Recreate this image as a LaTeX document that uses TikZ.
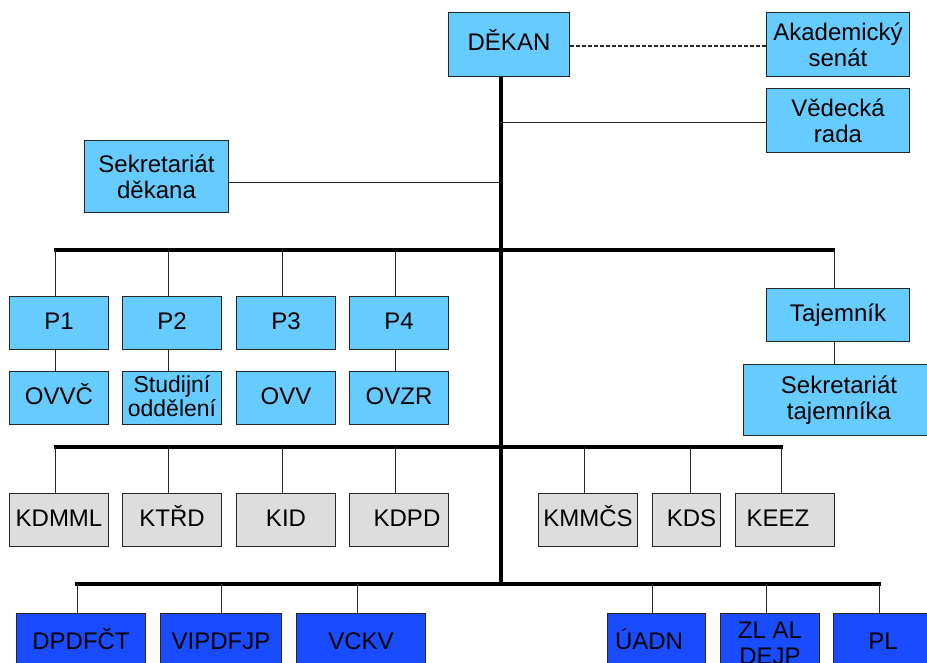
\documentclass[tikz,border=0pt]{standalone}
\usepackage{fontspec}
\setmainfont{Liberation Sans}
\usetikzlibrary{positioning,calc}
\definecolor{lightblue}{RGB}{102,204,255}
\definecolor{darkblue}{RGB}{26,76,255}
\definecolor{boxgray}{RGB}{221,221,221}
\begin{document}
\begin{tikzpicture}[x=1pt,y=-1pt,
  box/.style={rectangle,draw=black!85,line width=1pt,anchor=north west,inner sep=0pt,align=center,
    font=\fontsize{24}{26}\selectfont},
  size/.style 2 args={minimum width=#1,minimum height=#2},
  one/.style={text height=17pt,text depth=4.5pt},
  lb/.style={box,fill=lightblue},
  gb/.style={box,fill=boxgray},
  db/.style={box,fill=darkblue},
  thin line/.style={line width=1pt,black!85},
  bus/.style={line width=4pt,black}]
\useasboundingbox (0,0) rectangle (927,662);
\clip (0,0) rectangle (927,662);
% top
\begin{scope}
\node[lb,one,size={121}{64}] (dekan) at (448,12) {DĚKAN};
\node[lb,size={143}{64}] (senat) at (766,12) {Akademický\\senát};
\node[lb,size={143}{64}] (rada) at (766,88) {Vědecká\\rada};
\node[lb,size={144}{72}] (sekd) at (84,140) {Sekretariát\\děkana};
\end{scope}
% prorektori
\begin{scope}
\node[lb,one,size={99}{53}] (p1) at (9,296) {P1};
\node[lb,one,size={99}{53}] (p2) at (122,296) {P2};
\node[lb,one,size={99}{53}] (p3) at (236,296) {P3};
\node[lb,one,size={99}{53}] (p4) at (349,296) {P4};
\node[lb,one,size={99}{53}] (ovvc) at (9,371) {OVVČ};
\node[lb,size={99}{53}] (stud) at (122,371) {\fontsize{23}{24}\selectfont\raisebox{4pt}{\shortstack{Studijní\\oddělení}}};
\node[lb,one,size={99}{53}] (ovv) at (236,371) {OVV};
\node[lb,one,size={99}{53}] (ovzr) at (349,371) {OVZR};
\node[lb,one,size={143}{53}] (taj) at (766,288) {Tajemník};
\node[lb,size={191}{71}] (sekt) at (743,364) {Sekretariát\\tajemníka};
\end{scope}
% katedry
\begin{scope}
\node[gb,one,size={99}{53}] (kdmml) at (9,493) {KDMML};
\node[gb,one,size={99}{53}] (ktrd) at (122,493) {KTŘD};
\node[gb,one,size={99}{53}] (kid) at (236,493) {KID};
\node[gb,one,size={99}{53}] (kdpd) at (349,493) {\hspace{16pt}KDPD};
\node[gb,one,size={99}{53}] (kmmcs) at (538,493) {KMMČS};
\node[gb,one,size={68}{53}] (kds) at (652,493) {\hspace{10pt}KDS};
\node[gb,one,size={99}{53}] (keez) at (735,493) {KEEZ\hspace{14pt}};
\end{scope}
% ustavy
\begin{scope}
\node[db,one,size={129}{60}] (dpdfct) at (16,613) {DPDFČT};
\node[db,one,size={121}{60}] (vipdfjp) at (160,613) {VIPDFJP};
\node[db,one,size={129}{60}] (vckv) at (296,613) {VCKV};
\node[db,one,size={98}{60}] (uadn) at (607,613) {ÚADN\hspace{15pt}};
\node[db,size={99}{60}] (zlal) at (720,613) {ZL AL\\DEJP};
\node[db,one,size={99}{60}] (pl) at (833,613) {PL};
\end{scope}
% bus lines
\coordinate (axis) at (501,0);
\coordinate (bus1w) at (54,250);
\coordinate (bus1e) at (835,250);
\coordinate (bus2w) at (54,447);
\coordinate (bus2e) at (783,447);
\coordinate (bus3w) at (75,584);
\coordinate (bus3e) at (881,584);
\begin{scope}
\draw[bus] (dekan.south -| axis) -- (bus3w -| axis);
\draw[bus] (bus1w) -- (bus1e);
\draw[bus] (bus2w) -- (bus2e);
\draw[bus] (bus3w) -- (bus3e);
\draw[thin line,line width=1.3pt,dash pattern=on 4pt off 2pt] (dekan.east |- 0,46) -- (senat.west |- 0,46);
\draw[thin line] (axis |- 0,122) -- (rada.west |- 0,122);
\draw[thin line] (sekd.east |- 0,182) -- (axis |- 0,182);
\foreach \n in {p1,p2,p3,p4,taj}
  \draw[thin line] ([xshift=-4pt]\n.north) -- ([xshift=-4pt]\n.north |- bus1w);
\foreach \a/\b in {p1/ovvc,p2/stud,p4/ovzr,taj/sekt}
  \draw[thin line] ([xshift=-4pt]\a.south) -- ([xshift=-4pt]\a.south |- \b.north);
\foreach \n in {kdmml,ktrd,kid,kdpd,kmmcs,keez}
  \draw[thin line] ([xshift=-4pt]\n.north) -- ([xshift=-4pt]\n.north |- bus2w);
\draw[thin line] ([xshift=4pt]kds.north) -- ([xshift=4pt]kds.north |- bus2w);
\foreach \n in {dpdfct,vckv,uadn,zlal,pl}
  \draw[thin line] ([xshift=-4pt]\n.north) -- ([xshift=-4pt]\n.north |- bus3w);
\draw[thin line] (vipdfjp.north) -- (vipdfjp.north |- bus3w);
\end{scope}
\end{tikzpicture}
\end{document}
